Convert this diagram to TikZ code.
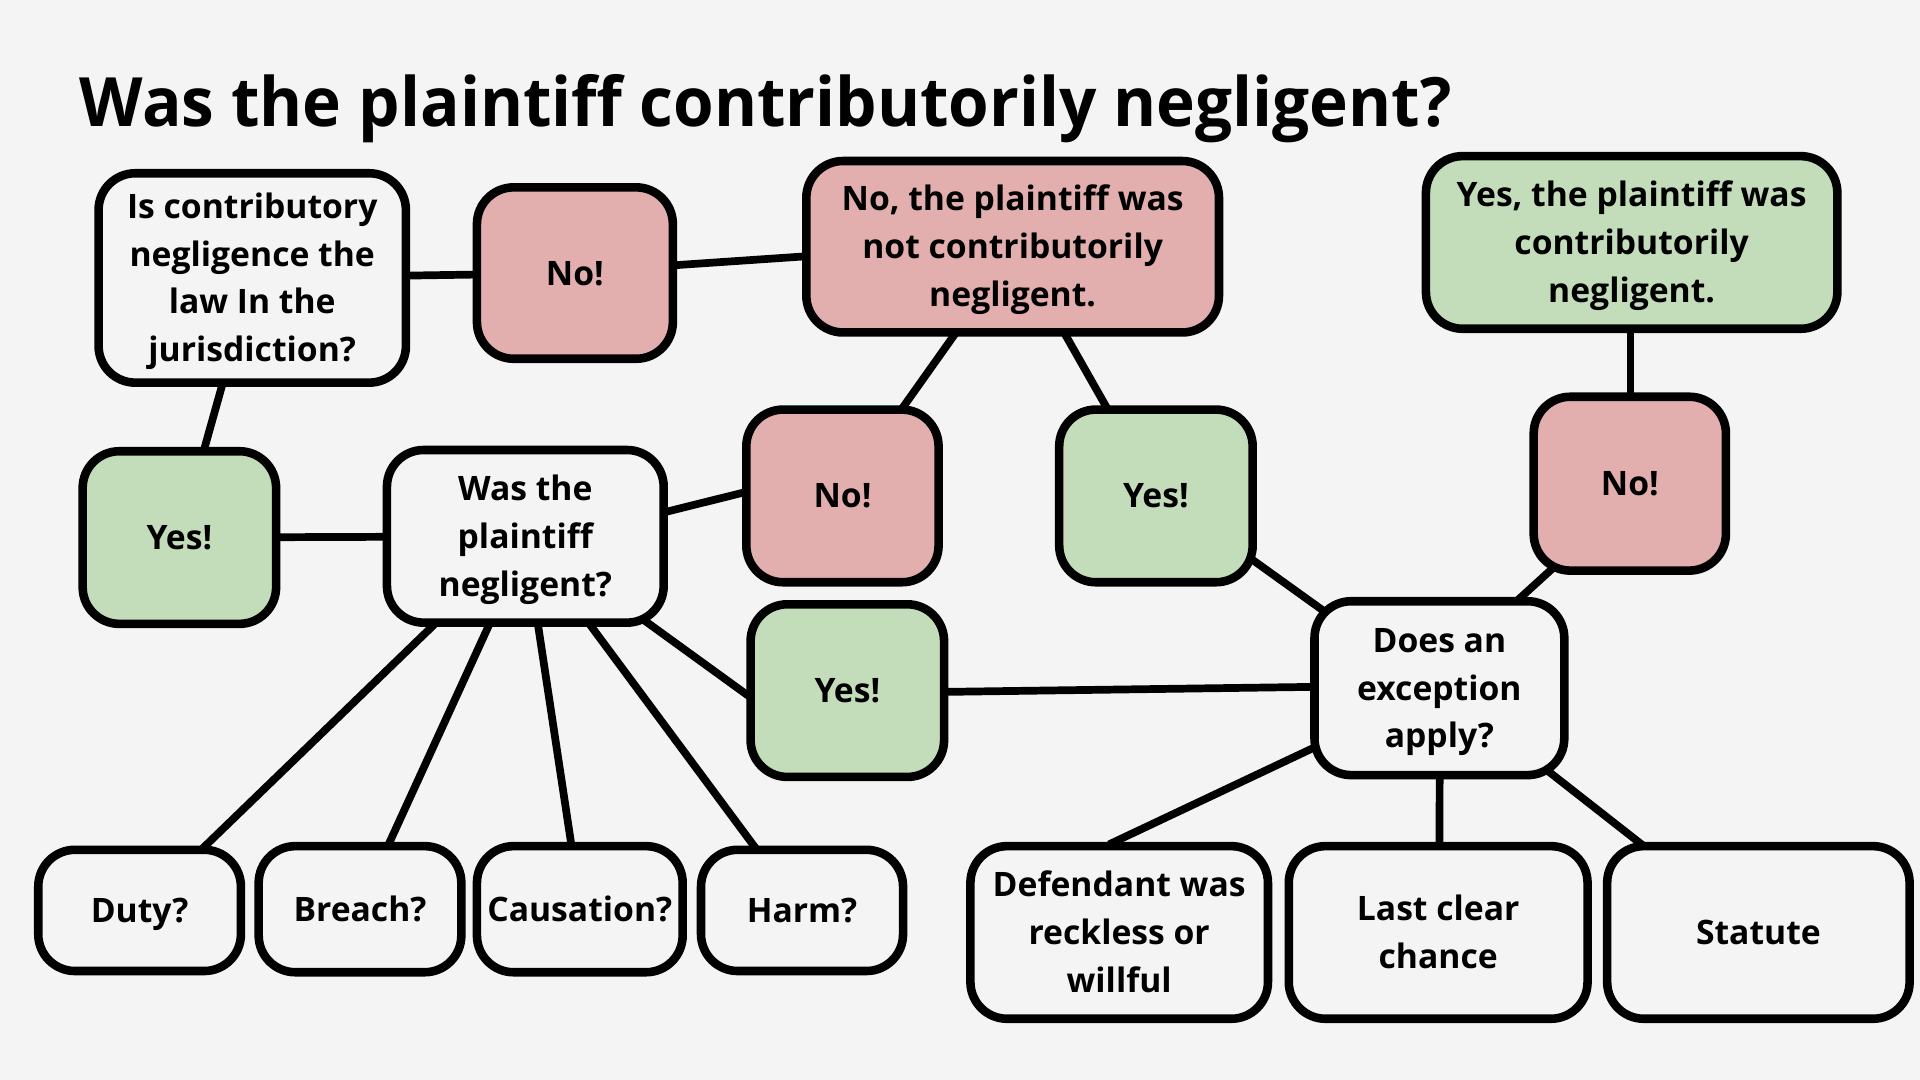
\documentclass[tikz,border=0pt]{standalone}
\usepackage{graphicx}
\usepackage{fontspec}
\setmainfont{Open Sans}
\usetikzlibrary{calc}
\pgfdeclarelayer{bg}
\pgfsetlayers{bg,main}
\definecolor{bgc}{HTML}{F4F4F4}
\definecolor{pinkc}{HTML}{E2AFAE}
\definecolor{greenc}{HTML}{C3DDBA}
\newcommand{\ls}{\rule[-9.7pt]{0pt}{39pt}}
\begin{document}
\begin{tikzpicture}[x=1pt,y=-1pt,
  box/.style={draw=black, line width=7pt, rounded corners=30pt, align=center,
    inner sep=0pt, text=black, font=\bfseries\fontsize{27.5pt}{39pt}\selectfont},
  wbox/.style={box, fill=bgc},
  pbox/.style={box, fill=pinkc},
  gbox/.style={box, fill=greenc},
  conn/.style={draw=black, line width=6.3pt, shorten <=-12pt, shorten >=-12pt}]
\useasboundingbox (0,0) rectangle (1568,882);

% title
\node[anchor=base west, inner sep=0pt] (title) at (65,103)
  {\resizebox{1120pt}{42.5pt}{\bfseries Was the plaintiff contributorily negligent?}};

% nodes
\node[wbox, minimum width=251pt, minimum height=171pt] (Q1) at (206,227)
  {\ls Is contributory\ls\\\ls negligence the\ls\\\ls law In the\ls\\\ls jurisdiction?\ls};
\node[pbox, minimum width=160pt, minimum height=140pt] (No1) at (469.5,223) {\ls No!\ls};
\node[pbox, minimum width=337pt, minimum height=140pt] (NoRes) at (827,201.5)
  {\ls No, the plaintiff was\ls\\\ls not contributorily\ls\\\ls negligent.\ls};
\node[gbox, minimum width=336pt, minimum height=141pt] (YesRes) at (1332.5,198)
  {\ls Yes, the plaintiff was\ls\\\ls contributorily\ls\\\ls negligent.\ls};
\node[gbox, minimum width=158pt, minimum height=141pt] (Yes1) at (146.5,439) {\ls Yes!\ls};
\node[wbox, minimum width=226pt, minimum height=141pt] (Q2) at (429,438)
  {\ls Was the\ls\\\ls plaintiff\ls\\\ls negligent?\ls};
\node[pbox, minimum width=157pt, minimum height=141pt] (No2) at (688,405) {\ls No!\ls};
\node[gbox, minimum width=158pt, minimum height=141pt] (Yes2) at (692,564) {\ls Yes!\ls};
\node[gbox, minimum width=158pt, minimum height=141pt] (Yes3) at (944,405) {\ls Yes!\ls};
\node[pbox, minimum width=157pt, minimum height=142pt] (No3) at (1331,395) {\ls No!\ls};
\node[wbox, minimum width=204pt, minimum height=142pt] (Q3) at (1175.5,562)
  {\ls Does an\ls\\\ls exception\ls\\\ls apply?\ls};
\node[wbox, minimum width=165.5pt, minimum height=99pt] (Duty) at (114,743.5) {\ls Duty?\ls};
\node[wbox, minimum width=165.5pt, minimum height=103pt] (Breach) at (294,742.5) {\ls Breach?\ls};
\node[wbox, minimum width=168pt, minimum height=103pt] (Caus) at (473.5,742.5) {\ls Causation?\ls};
\node[wbox, minimum width=165pt, minimum height=99pt] (Harm) at (655,743.5) {\ls Harm?\ls};
\node[wbox, minimum width=243pt, minimum height=141pt] (Def) at (914,761.5)
  {\ls Defendant was\ls\\\ls reckless or\ls\\\ls willful\ls};
\node[wbox, minimum width=244pt, minimum height=141pt] (Last) at (1174.5,761.5)
  {\ls Last clear\ls\\\ls chance\ls};
\node[wbox, minimum width=247pt, minimum height=141pt] (Stat) at (1436,761.5) {\ls Statute\ls};

% connectors (behind the boxes)
\begin{pgfonlayer}{bg}
\fill[bgc] (0,0) rectangle (1568,882);
\draw[conn] (Q1.center) -- (No1.center);
\draw[conn] ($(No1)+(84.5,-6.6)$) -- ($(NoRes)+(-173,8.1)$);
\draw[conn] (Q1.center) -- (Yes1.center);
\draw[conn] (Yes1.center) -- (Q2.center);
\draw[conn] ($(Q2)+(121,-21.5)$) -- ($(No2)+(-83,-2.2)$);
\draw[conn] ($(Q2)+(98.6,69.7)$) -- ($(Yes2)+(-85.3,1)$);
\draw[conn] ($(NoRes)+(-49.4,74.5)$) -- ($(No2)+(52,-76)$);
\draw[conn] ($(NoRes)+(44.5,74.5)$) -- ($(Yes3)+(-42.4,-76)$);
\draw[conn] ($(YesRes)+(-0.9,75)$) -- ($(No3)+(0.6,-75)$);
\draw[conn] ($(Yes3)+(80,53)$) -- ($(Q3)+(-96.5,-64.5)$);
\draw[conn] ($(No3)+(-64.5,70.5)$) -- ($(Q3)+(68.5,-76)$);
\draw[conn] ($(Yes2)+(83,1)$) -- ($(Q3)+(-106.5,-1)$);
\draw[conn] ($(Q2)+(-79,76.5)$) -- ($(Duty)+(56,-55)$);
\draw[conn] ($(Q2)+(-31.5,76.5)$) -- ($(Breach)+(25,-56.5)$);
\draw[conn] ($(Q2)+(11,76.5)$) -- ($(Caus)+(-7.5,-56.5)$);
\draw[conn] ($(Q2)+(56,76.5)$) -- ($(Harm)+(-41,-55)$);
\draw[conn] ($(Q3)+(-106.5,50.5)$) -- ($(Def)+(2.5,-77)$);
\draw[conn] ($(Q3)+(0.2,74)$) -- ($(Last)+(1.1,-74)$);
\draw[conn] ($(Q3)+(91,69.5)$) -- ($(Stat)+(-98,-74)$);
\end{pgfonlayer}
\end{tikzpicture}
\end{document}
